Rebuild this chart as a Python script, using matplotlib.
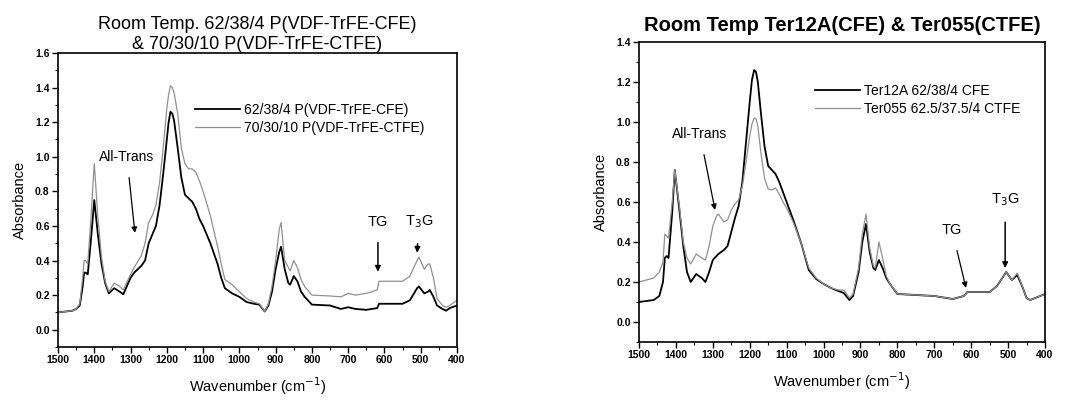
import matplotlib
matplotlib.use('Agg')
import matplotlib.pyplot as plt
from matplotlib.ticker import MultipleLocator

plt.rcParams['font.family'] = ['Liberation Sans', 'DejaVu Sans']

# linker paneel: 62/38/4 CFE en 70/30/10 CTFE
wn_a = [1500, 1460, 1450, 1440, 1432, 1428, 1424, 1418, 1410, 1400, 1390, 1380, 1370, 1360,
        1345, 1330, 1320, 1300, 1290, 1270, 1260, 1250, 1240, 1230, 1220, 1210, 1200, 1195,
        1190, 1185, 1180, 1170, 1160, 1150, 1140, 1130, 1120, 1110, 1100, 1080, 1060, 1050,
        1040, 1020, 1000, 980, 960, 945, 930, 920, 910, 900, 890, 885, 875, 865, 860, 850, 840,
        830, 820, 800, 750, 720, 700, 680, 650, 620, 615, 600, 550, 530, 510, 505, 490, 480,
        475, 465, 455, 440, 430, 420, 400]
cfe_a = [0.10, 0.11, 0.12, 0.14, 0.25, 0.33, 0.33, 0.32, 0.50, 0.75, 0.55, 0.38, 0.27, 0.21,
         0.24, 0.22, 0.205, 0.30, 0.33, 0.37, 0.40, 0.50, 0.55, 0.60, 0.72, 0.90, 1.10, 1.20,
         1.26, 1.25, 1.21, 1.05, 0.88, 0.78, 0.76, 0.74, 0.70, 0.64, 0.60, 0.50, 0.38, 0.30,
         0.24, 0.21, 0.19, 0.16, 0.15, 0.145, 0.105, 0.14, 0.22, 0.35, 0.45, 0.48, 0.35, 0.27,
         0.26, 0.31, 0.28, 0.22, 0.19, 0.145, 0.14, 0.12, 0.13, 0.12, 0.115, 0.125, 0.15, 0.15,
         0.15, 0.17, 0.24, 0.25, 0.21, 0.22, 0.23, 0.19, 0.14, 0.12, 0.11, 0.125, 0.14]
ctfe_a = [0.10, 0.11, 0.12, 0.15, 0.30, 0.40, 0.40, 0.38, 0.62, 0.96, 0.65, 0.42, 0.28, 0.22,
          0.27, 0.25, 0.23, 0.32, 0.36, 0.43, 0.50, 0.62, 0.66, 0.72, 0.85, 1.05, 1.28, 1.36,
          1.41, 1.40, 1.37, 1.25, 1.05, 0.96, 0.93, 0.93, 0.91, 0.86, 0.80, 0.66, 0.48, 0.38,
          0.29, 0.26, 0.22, 0.18, 0.16, 0.15, 0.105, 0.15, 0.25, 0.40, 0.58, 0.62, 0.40, 0.36,
          0.34, 0.40, 0.36, 0.29, 0.25, 0.20, 0.195, 0.19, 0.21, 0.20, 0.21, 0.23, 0.28, 0.28,
          0.28, 0.31, 0.40, 0.42, 0.35, 0.38, 0.38, 0.30, 0.18, 0.14, 0.13, 0.14, 0.17]

# rechter paneel: Ter12A (CFE) en Ter055 (CTFE)
wn_b = [1500, 1460, 1445, 1435, 1430, 1425, 1420, 1410, 1403, 1390, 1380, 1370, 1360, 1345,
        1330, 1320, 1310, 1300, 1290, 1285, 1270, 1260, 1250, 1240, 1230, 1220, 1210, 1200,
        1194, 1188, 1183, 1178, 1170, 1160, 1150, 1140, 1130, 1120, 1110, 1100, 1080, 1060,
        1040, 1020, 1000, 980, 960, 945, 930, 920, 905, 895, 885, 875, 865, 860, 850, 840, 830,
        820, 800, 750, 700, 650, 620, 610, 550, 530, 505, 490, 475, 460, 450, 440, 420, 400]
cfe_b = [0.10, 0.11, 0.13, 0.20, 0.32, 0.33, 0.32, 0.55, 0.76, 0.55, 0.38, 0.25, 0.20, 0.24,
         0.22, 0.20, 0.25, 0.31, 0.33, 0.34, 0.36, 0.38, 0.45, 0.52, 0.58, 0.70, 0.90, 1.10,
         1.21, 1.26, 1.25, 1.20, 1.05, 0.88, 0.78, 0.76, 0.74, 0.70, 0.65, 0.60, 0.50, 0.39,
         0.26, 0.215, 0.19, 0.17, 0.155, 0.145, 0.11, 0.13, 0.25, 0.40, 0.49, 0.35, 0.27, 0.26,
         0.31, 0.27, 0.22, 0.19, 0.14, 0.135, 0.13, 0.115, 0.13, 0.15, 0.15, 0.18, 0.25, 0.21,
         0.235, 0.17, 0.12, 0.11, 0.125, 0.14]
ctfe_b = [0.20, 0.22, 0.25, 0.30, 0.44, 0.43, 0.42, 0.60, 0.76, 0.57, 0.40, 0.32, 0.29, 0.34,
          0.32, 0.31, 0.38, 0.48, 0.53, 0.54, 0.50, 0.51, 0.56, 0.59, 0.61, 0.68, 0.80, 0.93,
          0.99, 1.02, 1.015, 0.98, 0.85, 0.72, 0.665, 0.66, 0.67, 0.64, 0.60, 0.57, 0.49, 0.39,
          0.27, 0.22, 0.19, 0.17, 0.16, 0.16, 0.12, 0.14, 0.27, 0.44, 0.54, 0.37, 0.28, 0.27,
          0.40, 0.32, 0.23, 0.19, 0.14, 0.135, 0.13, 0.115, 0.13, 0.15, 0.15, 0.18, 0.25, 0.21,
          0.245, 0.17, 0.12, 0.11, 0.125, 0.14]

fig = plt.figure(figsize=(10.73, 4.0), dpi=100)
ax1 = fig.add_axes([58 / 1073, 53 / 400, 399 / 1073, 294 / 400])
ax2 = fig.add_axes([639 / 1073, 58 / 400, 406 / 1073, 300 / 400])


def opmaak(ax, ymax):
    ax.set_xlim(1500, 400)
    ax.set_ylim(-0.1, ymax)
    ax.xaxis.set_major_locator(MultipleLocator(100))
    ax.xaxis.set_minor_locator(MultipleLocator(50))
    ax.yaxis.set_major_locator(MultipleLocator(0.2))
    ax.yaxis.set_minor_locator(MultipleLocator(0.1))
    ax.yaxis.set_major_formatter(plt.FormatStrFormatter('%.1f'))
    ax.tick_params(which='major', direction='out', length=4, width=1.0, labelsize=7.5, pad=2)
    ax.tick_params(which='minor', direction='out', length=2, width=0.8)
    for lab in ax.get_xticklabels() + ax.get_yticklabels():
        lab.set_fontweight('bold')
    for sp in ax.spines.values():
        sp.set_linewidth(1.2)
    ax.set_xlabel('Wavenumber (cm$^{-1}$)', fontsize=10.5, labelpad=7)
    ax.set_ylabel('Absorbance', fontsize=10.5, labelpad=6)


# linker grafiek
ax1.plot(wn_a, cfe_a, color='black', linewidth=1.3, label='62/38/4 P(VDF-TrFE-CFE)')
ax1.plot(wn_a, ctfe_a, color='#909090', linewidth=0.9, label='70/30/10 P(VDF-TrFE-CTFE)')
opmaak(ax1, 1.6)
ax1.set_title('Room Temp. 62/38/4 P(VDF-TrFE-CFE)\n& 70/30/10 P(VDF-TrFE-CTFE)',
              fontsize=13, linespacing=1.2, pad=3)
ax1.legend(loc='upper left', bbox_to_anchor=(0.33, 0.85), frameon=False, fontsize=10,
           handlelength=3.2, handletextpad=0.3, labelspacing=0.3, borderaxespad=0)
ax1.annotate('All-Trans', xy=(1288, 0.56), xytext=(1310, 1.0), ha='center', va='center',
             fontsize=10, arrowprops=dict(arrowstyle='-|>', color='black', lw=0.9,
                                          shrinkA=8, shrinkB=0, mutation_scale=8))
ax1.annotate('TG', xy=(618, 0.335), xytext=(618, 0.625), ha='center', va='center',
             fontsize=10.5, arrowprops=dict(arrowstyle='-|>', color='black', lw=1.1,
                                            shrinkA=8, shrinkB=0, mutation_scale=8))
ax1.annotate('T$_3$G', xy=(510, 0.445), xytext=(505, 0.625), ha='center', va='center',
             fontsize=10.5, arrowprops=dict(arrowstyle='-|>', color='black', lw=1.1,
                                            shrinkA=8, shrinkB=0, mutation_scale=8))

# rechter grafiek
ax2.plot(wn_b, cfe_b, color='black', linewidth=1.3, label='Ter12A 62/38/4 CFE')
ax2.plot(wn_b, ctfe_b, color='#909090', linewidth=0.9, label='Ter055 62.5/37.5/4 CTFE')
opmaak(ax2, 1.4)
ax2.set_title('Room Temp Ter12A(CFE) & Ter055(CTFE)', fontsize=14.5, fontweight='bold', pad=8)
ax2.legend(loc='upper left', bbox_to_anchor=(0.42, 0.88), frameon=False, fontsize=10,
           handlelength=3.2, handletextpad=0.3, labelspacing=0.3, borderaxespad=0)
ax2.annotate('All-Trans', xy=(1294, 0.56), xytext=(1335, 0.94), ha='center', va='center',
             fontsize=10, arrowprops=dict(arrowstyle='-|>', color='black', lw=0.9,
                                          shrinkA=8, shrinkB=0, mutation_scale=8))
ax2.annotate('TG', xy=(614, 0.17), xytext=(652, 0.46), ha='center', va='center',
             fontsize=10.5, arrowprops=dict(arrowstyle='-|>', color='black', lw=0.9,
                                            shrinkA=8, shrinkB=0, mutation_scale=8))
ax2.annotate('T$_3$G', xy=(508, 0.27), xytext=(508, 0.61), ha='center', va='center',
             fontsize=10.5, arrowprops=dict(arrowstyle='-|>', color='black', lw=1.1,
                                            shrinkA=8, shrinkB=0, mutation_scale=8))

fig.savefig('out.png', dpi=100)
